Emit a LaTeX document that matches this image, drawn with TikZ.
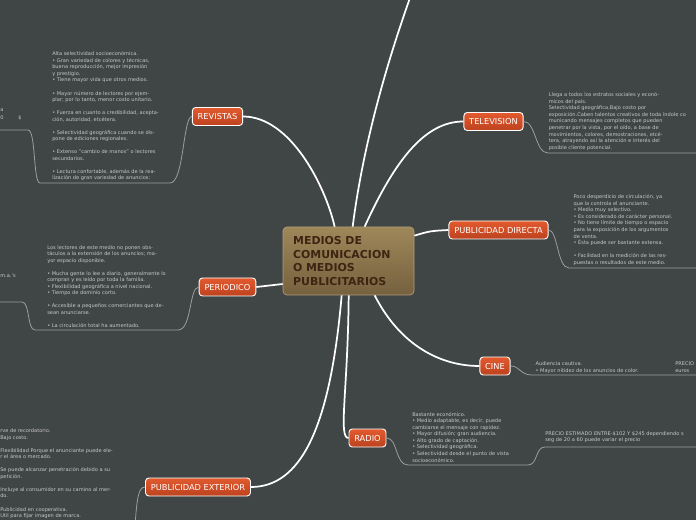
\documentclass[tikz,border=0pt]{standalone}
\usepackage{fontspec}
\setmainfont{DejaVu Sans}
\definecolor{bg}{HTML}{404545}
\definecolor{txt}{HTML}{C8C8C8}
\definecolor{thin}{HTML}{9C9E9E}
\definecolor{orA}{HTML}{E35A2E}
\definecolor{orB}{HTML}{BC421F}
\definecolor{brA}{HTML}{9E8759}
\definecolor{brB}{HTML}{76613F}
\definecolor{brT}{HTML}{3E2413}
\begin{document}
\begin{tikzpicture}[x=0.75pt,y=-0.75pt,
  topic/.style={draw=white, line width=0.7pt, rounded corners=2.5pt, top color=orA, bottom color=orB, text=white, font=\fontsize{6.2}{7}\selectfont, inner xsep=4pt, inner ysep=0pt, minimum height=13.5pt},
  note/.style={anchor=north west, inner sep=0pt, align=left, text=txt, font=\fontsize{3.8}{4.9}\selectfont},
  mainlink/.style={draw=white, line width=1.3pt},
  sublink/.style={draw=thin, line width=0.6pt}]
\useasboundingbox (0,0) rectangle (696,520);
\fill[bg] (0,0) rectangle (696,520);
\clip (0,0) rectangle (696,520);

% central node
\node[draw=brA!80!white, line width=0.5pt, rounded corners=3pt, top color=brA, bottom color=brB, text=brT, font=\bfseries\fontsize{8.2}{10.3}\selectfont, align=left, text width=83pt, inner xsep=7.5pt, minimum width=98.25pt, minimum height=51pt] (c) at (348.5,261) {MEDIOS DE\\COMUNICACION\\O MEDIOS\\PUBLICITARIOS};

% topics
\node[topic] (rev) at (217.5,116.5) {REVISTAS};
\node[topic] (per) at (227.5,287) {PERIODICO};
\node[topic] (pe) at (198,487) {PUBLICIDAD EXTERIOR};
\node[topic] (tv) at (493.5,121.5) {TELEVISION};
\node[topic] (pd) at (498.5,230) {PUBLICIDAD DIRECTA};
\node[topic] (cine) at (495,366) {CINE};
\node[topic] (radio) at (367.5,438) {RADIO};

% free ends
\coordinate (topend) at (411,-5);
\coordinate (revend) at (-2,130);
\coordinate (perend) at (-2,302);
\coordinate (peend) at (135,525);
\coordinate (tvend) at (698,153);
\coordinate (pdend) at (698,268);
\coordinate (cineend) at (698,375);
\coordinate (radioend) at (698,447);

% main links
\draw[mainlink] ([xshift=39pt]c.north west) .. controls (325,185) and (290,116.5) .. (rev.east);
\draw[mainlink] ([xshift=52.5pt]c.north west) .. controls (365,130) and (395,40) .. (topend);
\draw[mainlink] ([xshift=61.5pt]c.north west) .. controls (395,160) and (425,121.5) .. (tv.west);
\draw[mainlink] ([yshift=-6.75pt]c.north east) .. controls (430,231) .. (pd.west);
\draw[mainlink] ([yshift=-17.25pt]c.west) .. controls (270,285) .. (per.east);
\draw[mainlink] ([xshift=69pt]c.south west) .. controls (400,345) and (440,366) .. (cine.west);
\draw[mainlink] ([xshift=49.5pt]c.south west) .. controls (348,390) and (338,438) .. (radio.west);
\draw[mainlink] ([xshift=44.25pt]c.south west) .. controls (330,430) and (300,487) .. (pe.east);

% sub links
\draw[sublink] (rev.west) .. controls (183,116.5) and (184,183) .. (170,183) -- (40,183) .. controls (33,183) and (36,130) .. (28,130) -- (revend);
\draw[sublink] (per.west) .. controls (189,287) and (192,330) .. (178,330) -- (35,330) .. controls (27,330) and (30,302) .. (22,302) -- (perend);
\draw[sublink] (pe.west) .. controls (138,487) and (137,500) .. (peend);
\draw[sublink] (tv.east) .. controls (536,121.5) and (535,153) .. (548,153) -- (tvend);
\draw[sublink] (pd.east) .. controls (558,230) and (557,268) .. (569,268) -- (pdend);
\draw[sublink] (cine.east) .. controls (520,366) and (520,375) .. (532,375) -- (cineend);
\draw[sublink] (radio.east) .. controls (398,438) and (395,465) .. (408,465) -- (528,465) .. controls (538,465) and (535,447) .. (545,447) -- (radioend);

% notes
\node[note] (revt) at (52,51.5) {Alta selectividad socioeconómica.\\
• Gran variedad de colores y técnicas,\\
buena reproducción, mejor impresión\\
y prestigio.\\
• Tiene mayor vida que otros medios.\\[4.9pt]
• Mayor número de lectores por ejem-\\
plar; por lo tanto, menor costo unitario.\\[4.9pt]
• Fuerza en cuanto a credibilidad, acepta-\\
ción, autoridad, etcétera.\\[4.9pt]
• Selectividad geográfica cuando se dis-\\
pone de ediciones regionales.\\[4.9pt]
• Extenso "cambio de manos" o lectores\\
secundarios.\\[4.9pt]
• Lectura confortable, además de la rea-\\
lización de gran variedad de anuncios:};

\node[note] (rl1) at (0,108.5) {a};
\node[note] (rl2) at (0,115) {0};
\node[note] (rl3) at (18,115) {\$};
\node[note] (pl1) at (0,274) {m.a.'s};

\node[note] (pert) at (47,245) {Los lectores de este medio no ponen obs-\\
táculos a la extensión de los anuncios; ma-\\
yor espacio disponible.\\[4.9pt]
• Mucha gente lo lee a diario, generalmente lo\\
compran y es leído por toda la familia.\\
• Flexibilidad geográfica a nivel nacional.\\
• Tiempo de dominio corto.\\[4.9pt]
• Accesible a pequeños comerciantes que de-\\
sean anunciarse.\\[4.9pt]
• La circulación total ha aumentado.};

\node[note] (pet) at (0,428.5) {rve de recordatorio.\\
Bajo costo.\\[4.9pt]
Flexibilidad Porque el anunciante puede ele-\\
r el área o mercado.\\[4.9pt]
Se puede alcanzar penetración debido a su\\
petición.\\[4.9pt]
Incluye al consumidor en su camino al mer-\\
do.\\[4.9pt]
Publicidad en cooperativa.\\
Util para fijar imagen de marca.};

\node[note] (tvt) at (548.5,92.5) {Llega a todos los estratos sociales y econó-\\
micos del país.\\
Selectividad geográfica,Bajo costo por\\
exposición.Caben talentos creativos de toda índole co\\
municando mensajes completos que pueden\\
penetrar por la vista, por el oído, a base de\\
movimientos, colores, demostraciones, etcé-\\
tera, atrayendo así la atención e interés del\\
posible cliente potencial.};

\node[note] (pdt) at (573.3,194.5) {Poco desperdicio de circulación, ya\\
que la controla el anunciante.\\
• Medio muy selectivo.\\
• Es considerado de carácter personal.\\
• No tiene límite de tiempo o espacio\\
para la exposición de los argumentos\\
de venta.\\
• Ésta puede ser bastante extensa.\\[4.9pt]
• Facilidad en la medición de las res-\\
puestas o resultados de este medio.};

\node[note] (cinet) at (535.3,361.5) {Audiencia cautiva.\\
• Mayor nitidez de los anuncios de color.};
\node[note] (cinep) at (675,361.5) {PRECIO\\euros};

\node[note] (radiot) at (412,412) {Bastante económico.\\
• Medio adaptable, es decir, puede\\
cambiarse el mensaje con rapidez.\\
• Mayor difusión; gran audiencia.\\
• Alto grado de captación.\\
• Selectividad geográfica.\\
• Selectividad desde el punto de vista\\
socioeconómico.};
\node[note] (radiop) at (545,431) {PRECIO ESTIMADO ENTRE-\$102 Y \$245 dependiendo s\\
seg de 20 a 60 puede variar el precio};
\end{tikzpicture}
\end{document}
